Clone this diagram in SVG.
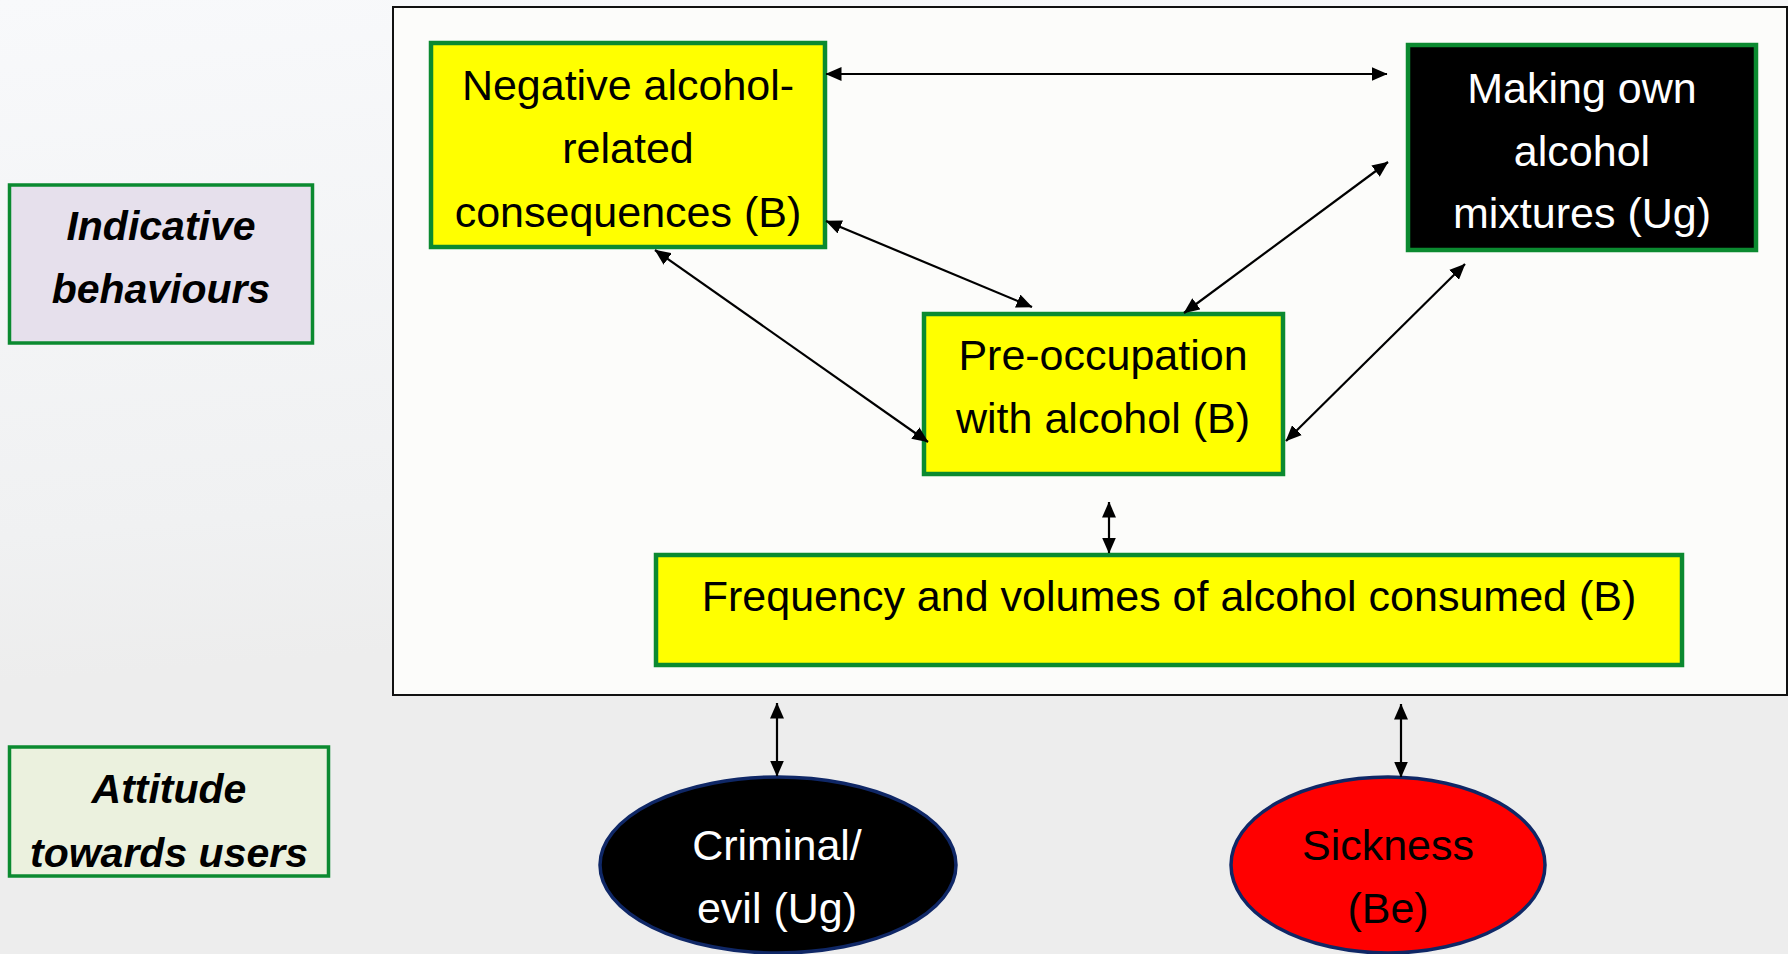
<svg xmlns="http://www.w3.org/2000/svg" width="1788" height="954" viewBox="0 0 1788 954">
  <defs>
    <linearGradient id="bg" x1="0" y1="0" x2="0.15" y2="1">
      <stop offset="0" stop-color="#F8F9FB"/>
      <stop offset="0.55" stop-color="#F0F1F2"/>
      <stop offset="0.7" stop-color="#EDEDED"/>
      <stop offset="1" stop-color="#EDEDED"/>
    </linearGradient>
    <marker id="ah" viewBox="0 0 16 14" markerWidth="16" markerHeight="14" refX="15.5" refY="7" orient="auto-start-reverse" markerUnits="userSpaceOnUse">
      <path d="M0,0 L16,7 L0,14 z" fill="#000"/>
    </marker>
    <style>
      .box { stroke: #0B8A30; stroke-width: 4.5; }
      .lbl { stroke: #0B8A30; stroke-width: 3.5; }
      .ell { stroke: #0F2766; stroke-width: 3.5; }
      .t { font-family: "Liberation Sans", Arial, sans-serif; font-size: 43px; text-anchor: middle; }
      .bi { font-family: "Liberation Sans", Arial, sans-serif; font-size: 41px; font-weight: bold; font-style: italic; text-anchor: middle; fill: #000; }
      .con line { stroke: #000; stroke-width: 2.2; marker-start: url(#ah); marker-end: url(#ah); }
    </style>
  </defs>
  <rect x="0" y="0" width="1788" height="954" fill="url(#bg)"/>

  <rect id="frame" x="393" y="7" width="1394" height="688" fill="#FCFCFA" stroke="#111" stroke-width="2"/>

  <g id="indicative">
    <rect class="lbl" x="9.5" y="185" width="303" height="158" fill="#E6E0EC"/>
    <text class="bi" x="161" y="240">Indicative</text>
    <text class="bi" x="161" y="303">behaviours</text>
  </g>

  <g id="attitude">
    <rect class="lbl" x="9.5" y="747" width="319" height="129" fill="#EBF1DE"/>
    <text class="bi" x="169" y="803">Attitude</text>
    <text class="bi" x="169" y="867">towards users</text>
  </g>

  <g id="negative">
    <rect class="box" x="431" y="43" width="394" height="204" fill="#FFFF00"/>
    <text class="t" x="628" y="100">Negative alcohol-</text>
    <text class="t" x="628" y="163">related</text>
    <text class="t" x="628" y="227">consequences (B)</text>
  </g>

  <g id="making">
    <rect class="box" x="1408" y="45" width="348" height="205" fill="#000"/>
    <text class="t" x="1582" y="103" fill="#FFF">Making own</text>
    <text class="t" x="1582" y="166" fill="#FFF">alcohol</text>
    <text class="t" x="1582" y="228" fill="#FFF">mixtures (Ug)</text>
  </g>

  <g id="preoccupation">
    <rect class="box" x="924" y="314" width="359" height="160" fill="#FFFF00"/>
    <text class="t" x="1103" y="370">Pre-occupation</text>
    <text class="t" x="1103" y="433">with alcohol (B)</text>
  </g>

  <g id="frequency">
    <rect class="box" x="656" y="555" width="1026" height="110" fill="#FFFF00"/>
    <text class="t" x="1169" y="611">Frequency and volumes of alcohol consumed (B)</text>
  </g>

  <g id="criminal">
    <ellipse class="ell" cx="778" cy="865" rx="178" ry="88" fill="#000"/>
    <text class="t" x="777" y="860" fill="#FFF">Criminal/</text>
    <text class="t" x="777" y="923" fill="#FFF">evil (Ug)</text>
  </g>

  <g id="sickness">
    <ellipse class="ell" cx="1388" cy="865" rx="157" ry="88" fill="#FF0000"/>
    <text class="t" x="1388" y="860" fill="#000">Sickness</text>
    <text class="t" x="1388" y="923" fill="#000">(Be)</text>
  </g>

  <g id="connectors" class="con">
    <line x1="826" y1="74" x2="1387" y2="74"/>
    <line x1="826" y1="221" x2="1032" y2="307"/>
    <line x1="655" y1="250" x2="928" y2="442"/>
    <line x1="1388" y1="162" x2="1184" y2="313"/>
    <line x1="1465" y1="264" x2="1286" y2="441"/>
    <line x1="1109" y1="502" x2="1109" y2="553"/>
    <line x1="777" y1="703" x2="777" y2="776"/>
    <line x1="1401" y1="704" x2="1401" y2="777"/>
  </g>
</svg>
